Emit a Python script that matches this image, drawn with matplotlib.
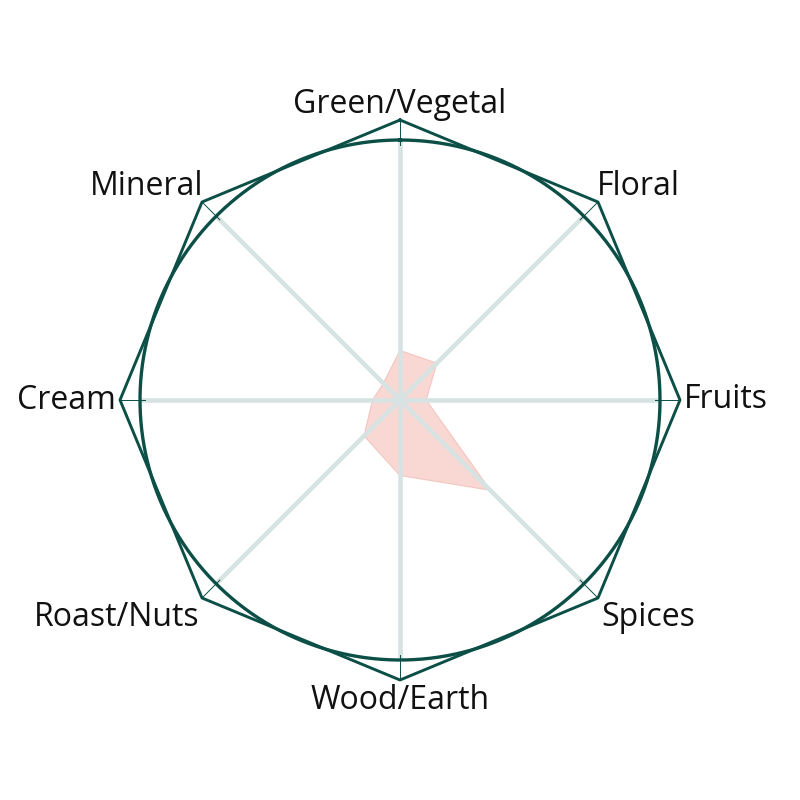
import numpy as np
import matplotlib
matplotlib.use("Agg")
import matplotlib.pyplot as plt

plt.rcParams['font.family'] = ['Open Sans', 'DejaVu Sans']

categories = ["Green/Vegetal", "Floral", "Fruits", "Spices",
              "Wood/Earth", "Roast/Nuts", "Cream", "Mineral"]
values = [1.9, 2.0, 1.0, 4.9, 2.9, 1.95, 1.05, 0.9]
max_value = 10

dark = "#0b4f47"
grid_col = "#d7e3e3"
fill_col = "#f9d8d4"

n = len(categories)
angles = np.linspace(0, 2 * np.pi, n, endpoint=False)
outer = max_value * 280 / 260
rmax = max_value * 400 / 260

fig = plt.figure(figsize=(8, 8), dpi=100)
ax = fig.add_axes([0, 0, 1, 1], polar=True)
ax.set_theta_zero_location("N")
ax.set_theta_direction(-1)
ax.set_ylim(0, rmax)
ax.axis("off")

# spokes
for a in angles:
    ax.plot([a, a], [0, max_value], color=grid_col, lw=3.3, solid_capstyle="butt", zorder=1)
    ax.plot([a, a], [max_value * 0.98, outer], color=dark, lw=0.7, zorder=2)

# data polygon
a_closed = np.append(angles, angles[0])
v_closed = np.append(values, values[0])
ax.fill(a_closed, v_closed, color=fill_col, zorder=0)
ax.plot(a_closed, v_closed, color="#f2c4bf", lw=0.6, zorder=0)

# circle and octagon
t = np.linspace(0, 2 * np.pi, 400)
ax.plot(t, np.full_like(t, max_value), color=dark, lw=2.4, zorder=3)
ax.plot(a_closed, np.full(n + 1, outer), color=dark, lw=2.1, zorder=3)

# labels
for a, lab in zip(angles, categories):
    s, c = np.sin(a), np.cos(a)
    ha = "center" if abs(s) < 0.1 else ("left" if s > 0 else "right")
    va = "center" if abs(c) < 0.1 else ("bottom" if c > 0 else "top")
    r = outer * (0.995 if va == "bottom" else 1.015)
    ax.text(a, r, lab, ha=ha, va=va, fontsize=23, color="#111111")

fig.savefig("out.png", dpi=100)
